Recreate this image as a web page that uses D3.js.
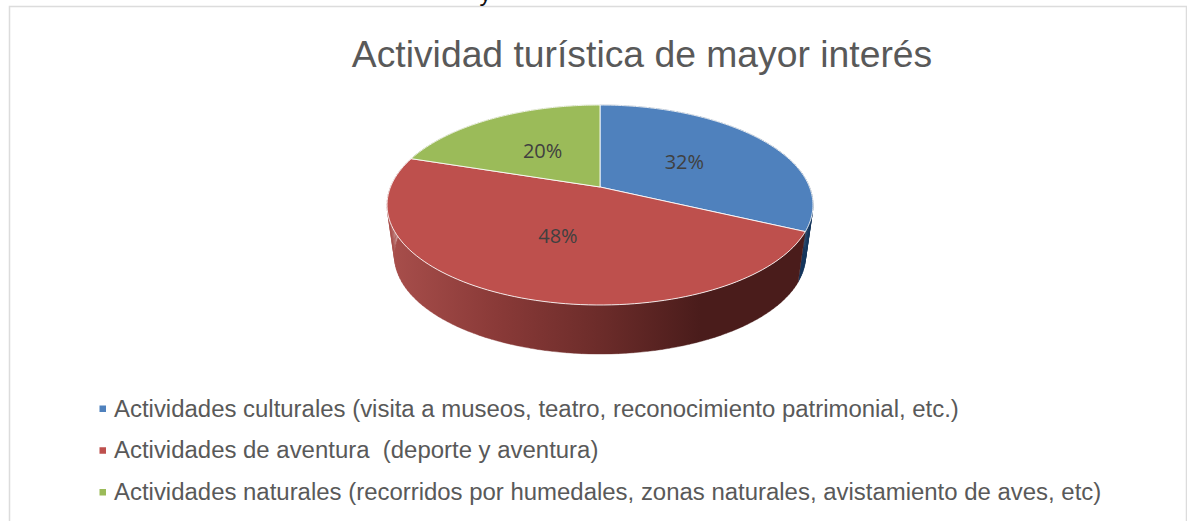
<!DOCTYPE html>
<html><head><meta charset="utf-8">
<script src="https://cdn.jsdelivr.net/npm/d3@7"></script>
<style>html,body{margin:0;padding:0;background:#fff;overflow:hidden}svg{display:block}</style>
</head><body><svg id="c" width="1187" height="521"></svg>
<script>
const chartTitle = "Actividad turística de mayor interés";
const categories = [
  "Actividades culturales (visita a museos, teatro, reconocimiento patrimonial, etc.)",
  "Actividades de aventura  (deporte y aventura)",
  "Actividades naturales (recorridos por humedales, zonas naturales, avistamiento de aves, etc)"
];
const values = [32, 48, 20];
const topColors = ["#4f81bd", "#be504d", "#9bbb59"];

const W = 1187, H = 521;
const svg = d3.select("#c");
const FONT = "'Liberation Sans', Arial, sans-serif";

// perspective projection of the unit disc onto the page
const cx = 600, apexY = 187, A = 209.5, B = 96.76, K = -0.18;
function project(r, ang) {
  const u = r * Math.sin(ang), v = -r * Math.cos(ang), w = 1 + K * v;
  return [cx + A * u / w, apexY + B * v / w];
}
// lower rim of the disc's thickness
const depth = 49, shrinkX = 0.965, shrinkY = 0.98;
function projectLow(r, ang) {
  const p = project(r, ang);
  return [cx + (p[0] - cx) * shrinkX, apexY + (p[1] - apexY) * shrinkY + depth + 2.4];
}

const arcs = d3.pie().value(d => d).sort(null)(values);
const line = d3.line();
const N = 100;
const sample = (a0, a1, f) => d3.range(0, N + 1).map(i => f(1, a0 + (a1 - a0) * i / N));

const defs = svg.append("defs");
const gradRed = defs.append("linearGradient").attr("id", "wallRed")
  .attr("gradientUnits", "userSpaceOnUse").attr("x1", 387).attr("x2", 700).attr("y1", 0).attr("y2", 0);
[[0, "#a94f4c"], [0.35, "#8a3a38"], [0.7, "#6a2b29"], [1, "#4a1c1b"]].forEach(s =>
  gradRed.append("stop").attr("offset", s[0]).attr("stop-color", s[1]));

// side walls: union of small quads between the upper and lower rims
const wallColors = ["#17375e", "url(#wallRed)", "#76923c"];
[2, 0, 1].forEach(i => {
  const d = arcs[i];
  const up = sample(d.startAngle, d.endAngle, project);
  const low = sample(d.startAngle, d.endAngle, projectLow);
  const quads = d3.range(N).map(j => line([up[j], up[j + 1], low[j + 1], low[j]]) + "Z").join("");
  svg.append("path").attr("d", quads).attr("fill", wallColors[i]).attr("fill-rule", "nonzero")
    .attr("stroke", wallColors[i]).attr("stroke-width", 0.4);
});

// top faces
arcs.forEach((d, i) => {
  const path = [project(0, 0)].concat(sample(d.startAngle, d.endAngle, project));
  svg.append("path").attr("d", line(path) + "Z").attr("fill", topColors[i])
    .attr("stroke", "#fff").attr("stroke-opacity", 0.85).attr("stroke-width", 1).attr("stroke-linejoin", "round");
});

// value labels
arcs.forEach((d, i) => {
  const p = project(0.5, (d.startAngle + d.endAngle) / 2);
  svg.append("text").attr("x", p[0]).attr("y", p[1] + 7).attr("text-anchor", "middle")
    .attr("font-family", "'Open Sans', 'Noto Sans', sans-serif").attr("font-size", 20).attr("fill", "#404040")
    .text(d.value + "%");
});

// frame and cropped text line above it
svg.append("path").attr("d", `M9.5,${H}V6.5H1186.5V${H}`).attr("fill", "none").attr("stroke", "#dcdcdc").attr("stroke-width", 1.5);
svg.append("text").attr("x", 479.5).attr("y", 0.5).attr("font-family", FONT).attr("font-size", 24).attr("fill", "#111").text("y");

// title
svg.append("text").attr("x", 642).attr("y", 67).attr("text-anchor", "middle")
  .attr("font-family", FONT).attr("font-size", 37.3).attr("fill", "#595959").text(chartTitle);

// legend
const legendY = d3.scalePoint().domain(d3.range(categories.length)).range([416.5, 500]);
categories.forEach((c, i) => {
  svg.append("rect").attr("x", 99.5).attr("y", legendY(i) - 11).attr("width", 6.5).attr("height", 6.5).attr("fill", topColors[i]);
  svg.append("text").attr("x", 114).attr("y", legendY(i)).attr("font-family", FONT).attr("font-size", 23.95)
    .attr("fill", "#595959").attr("xml:space", "preserve").style("white-space", "pre").text(c);
});
</script></body></html>
